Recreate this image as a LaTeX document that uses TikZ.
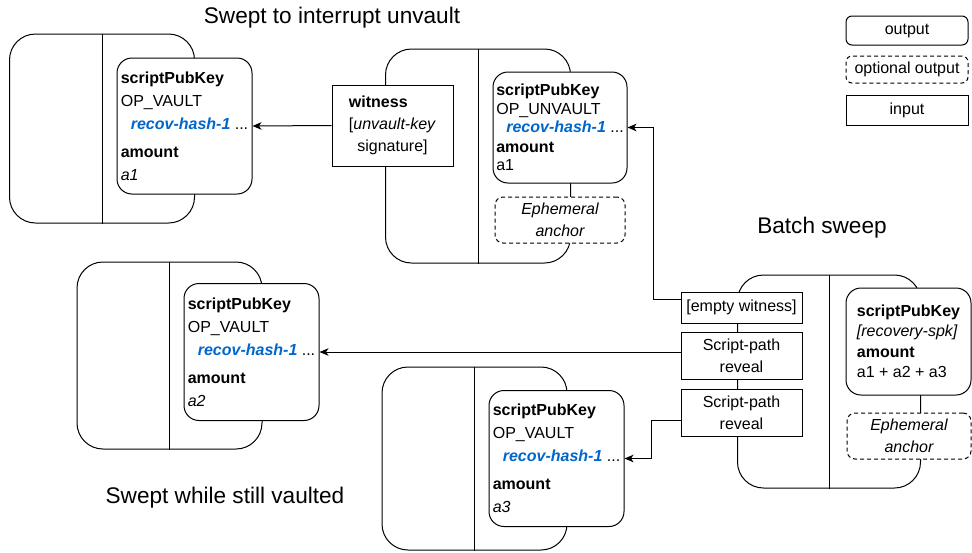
\documentclass[tikz,border=0pt]{standalone}
\usepackage{fontspec}
\setmainfont{Liberation Sans}
\usetikzlibrary{arrows.meta}
\definecolor{hashblue}{HTML}{0066CC}
\newcommand{\rhash}{\hspace*{10pt}\textcolor{hashblue}{\textbf{\textit{recov-hash-1}}} ...}
\tikzset{
    txbox/.style={draw, rounded corners=26pt, minimum width=185pt, inner sep=0pt},
    vout/.style={draw, fill=white, rounded corners=15pt, minimum width=135pt, minimum height=136pt,
        inner sep=0pt, align=left, font=\fontsize{16}{23}\selectfont},
    inbox/.style={draw, fill=white, minimum width=121pt, inner sep=0pt, align=center,
        font=\fontsize{16}{22}\selectfont},
    anchorbox/.style={draw, dash pattern=on 4pt off 3pt, fill=white, rounded corners=8pt,
        minimum height=46pt, inner sep=0pt, align=center, font=\fontsize{16}{22}\selectfont\itshape},
    heading/.style={font=\fontsize{22.6}{27}\selectfont},
    arr/.style={-{Stealth[length=9pt,width=7.5pt,inset=2.5pt]}}
}
\begin{document}
\begin{tikzpicture}[x=1pt, y=-1pt, line width=1pt]
    \useasboundingbox (0,0) rectangle (972,552);
    \node[txbox, minimum height=189pt] (tx1) at (102,128.5) {};
    \node[txbox, minimum height=214pt] (tx2) at (478,156) {};
    \node[txbox, minimum height=213pt, minimum width=183pt] (tx3) at (829,381.5) {};
    \node[txbox, minimum height=187pt] (tx4) at (169.5,355.5) {};
    \node[txbox, minimum height=183pt] (tx5) at (474.5,458.5) {};
    \foreach \t in {tx1,tx2,tx3,tx4,tx5}
        \draw (\t.north) -- (\t.south);

    \node[vout] (out1) at (184.5,126) {\textbf{scriptPubKey}\\OP\_VAULT\\\rhash\\[5pt]\textbf{amount}\\\textit{a1}};
    \node[vout, minimum width=134pt, minimum height=111pt, font=\fontsize{16}{18.5}\selectfont] (out2) at (560,127.5)
        {\textbf{scriptPubKey}\\OP\_UNVAULT\\\rhash\\[1pt]\textbf{amount}\\a1};
    \node[vout, minimum width=125pt, minimum height=107pt, font=\fontsize{16}{20.5}\selectfont] (out3) at (908.5,341.5)
        {\textbf{scriptPubKey}\\\textit{[recovery-spk]}\\\textbf{amount}\\a1 + a2 + a3};
    \node[vout, minimum height=137pt] (out4) at (251.5,352) {\textbf{scriptPubKey}\\OP\_VAULT\\\rhash\\[5pt]\textbf{amount}\\\textit{a2}};
    \node[vout] (out5) at (556.5,458.5) {\textbf{scriptPubKey}\\OP\_VAULT\\\rhash\\[5pt]\textbf{amount}\\\textit{a3}};

    \node[anchorbox, minimum width=130pt] (eph2) at (560,220) {Ephemeral\\anchor};
    \node[anchorbox, minimum width=124pt] (eph3) at (909,436) {Ephemeral\\anchor};

    \node[inbox, minimum height=81pt] (wit) at (392.5,125.5)
        {\rlap{\textbf{witness}}\phantom{[\textit{unvault-key}}\\{}[\textit{unvault-key}\\signature]};
    \node[inbox, minimum height=31pt] (ew) at (741.5,307.5) {[empty witness]};
    \node[inbox, minimum height=47pt] (rev1) at (741.5,355.5) {Script-path\\reveal};
    \node[inbox, minimum height=47pt] (rev2) at (741.5,412.5) {Script-path\\reveal};

    \draw[arr] (wit.west) -- (out1.east);
    \draw[arr] ([yshift=8pt]ew.west) -- ++(-27,0) |- (out2.east);
    \draw[arr] (rev1.west |- out4.east) -- (out4.east);
    \draw[arr] ([yshift=-7.5pt]rev2.west) -- ++(-29,0) |- (out5.east);

    \node[heading] (h1) at (332,18) {Swept to interrupt unvault};
    \node[heading] (h2) at (822,228) {Batch sweep};
    \node[heading] (h3) at (225,498) {Swept while still vaulted};

    \node[vout, minimum width=122pt, minimum height=29pt, rounded corners=6pt, align=center] (lout) at (907,30.5) {output};
    \node[anchorbox, minimum width=122pt, minimum height=27pt, rounded corners=6pt, font=\fontsize{16}{18}\selectfont] (lopt) at (907,69.5) {optional output};
    \node[inbox, minimum width=122pt, minimum height=30pt] (lin) at (907,110) {input};
\end{tikzpicture}
\end{document}
